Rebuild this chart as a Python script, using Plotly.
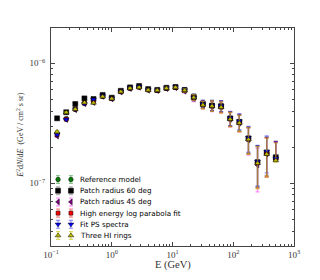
import plotly.graph_objects as go

# ---------------- data ----------------
E_GEV = [0.126, 0.178, 0.251, 0.355, 0.501, 0.708, 1.0, 1.41, 2.0, 2.82, 3.98, 5.62, 7.94,
         11.2, 15.8, 22.4, 31.6, 44.7, 63.1, 89.1, 126, 178, 251, 355, 501]

REFERENCE = [2.60e-7, 3.45e-7, 4.15e-7, 4.65e-7, 4.85e-7, 5.30e-7, 5.10e-7, 5.82e-7, 6.20e-7,
             6.35e-7, 6.02e-7, 5.96e-7, 6.20e-7, 6.32e-7, 5.97e-7, 5.20e-7, 4.55e-7, 4.42e-7,
             4.38e-7, 3.45e-7, 3.22e-7, 2.35e-7, 1.50e-7, 1.78e-7, 1.60e-7]
PATCH60 = [3.48e-7, 3.91e-7, 4.58e-7, 5.10e-7, 5.04e-7, 5.45e-7, 5.17e-7, 5.90e-7, 6.30e-7,
           6.47e-7, 6.10e-7, 6.00e-7, 6.25e-7, 6.35e-7, 6.00e-7, 5.25e-7, 4.60e-7, 4.45e-7,
           4.40e-7, 3.48e-7, 3.25e-7, 2.37e-7, 1.50e-7, 1.80e-7, 1.65e-7]
PATCH45 = [2.47e-7, 3.40e-7, 4.10e-7, 4.60e-7, 4.70e-7, 5.30e-7, 5.05e-7, 5.75e-7, 6.15e-7,
           6.30e-7, 5.95e-7, 5.92e-7, 6.15e-7, 6.25e-7, 5.85e-7, 5.10e-7, 4.50e-7, 4.38e-7,
           4.35e-7, 3.42e-7, 3.18e-7, 2.30e-7, 1.42e-7, 1.75e-7, 1.60e-7]
LOGPARABOLA = [2.55e-7, 3.42e-7, 4.14e-7, 4.65e-7, 4.75e-7, 5.30e-7, 5.08e-7, 5.80e-7, 6.19e-7,
               6.32e-7, 6.00e-7, 5.95e-7, 6.19e-7, 6.30e-7, 5.95e-7, 5.18e-7, 4.52e-7, 4.40e-7,
               4.32e-7, 3.44e-7, 3.20e-7, 2.33e-7, 1.48e-7, 1.77e-7, 1.60e-7]
FIT_PS = [2.55e-7, 3.41e-7, 4.15e-7, 4.62e-7, 5.00e-7, 5.35e-7, 5.12e-7, 5.85e-7, 6.25e-7,
          6.40e-7, 6.05e-7, 5.98e-7, 6.22e-7, 6.35e-7, 5.98e-7, 5.20e-7, 4.58e-7, 4.45e-7,
          4.42e-7, 3.50e-7, 3.30e-7, 2.40e-7, 1.52e-7, 1.85e-7, 1.62e-7]
THREE_HI = [2.69e-7, 3.90e-7, 4.14e-7, 4.70e-7, 4.68e-7, 5.27e-7, 5.07e-7, 5.80e-7, 6.19e-7,
            6.30e-7, 5.99e-7, 5.95e-7, 6.19e-7, 6.30e-7, 5.95e-7, 5.18e-7, 4.50e-7, 4.40e-7,
            4.30e-7, 3.42e-7, 3.18e-7, 2.32e-7, 1.47e-7, 1.75e-7, 1.55e-7]

ERR_UP = [0.05e-7, 0.05e-7, 0.05e-7, 0.05e-7, 0.05e-7, 0.05e-7, 0.05e-7, 0.10e-7, 0.10e-7,
          0.10e-7, 0.10e-7, 0.10e-7, 0.10e-7, 0.10e-7, 0.20e-7, 0.30e-7, 0.32e-7, 0.45e-7,
          0.46e-7, 0.47e-7, 0.50e-7, 0.58e-7, 0.55e-7, 0.63e-7, 0.61e-7]
ERR_DOWN = [0.05e-7, 0.05e-7, 0.05e-7, 0.05e-7, 0.05e-7, 0.05e-7, 0.05e-7, 0.10e-7, 0.10e-7,
            0.10e-7, 0.10e-7, 0.10e-7, 0.10e-7, 0.10e-7, 0.20e-7, 0.30e-7, 0.32e-7, 0.42e-7,
            0.46e-7, 0.47e-7, 0.50e-7, 0.58e-7, 0.57e-7, 0.63e-7, 0.05e-7]

SERIES_NAMES = ["Reference model", "Patch radius 60 deg", "Patch radius 45 deg",
                "High energy log parabola fit", "Fit PS spectra", "Three HI rings"]
SERIES_VALUES = [REFERENCE, PATCH60, PATCH45, LOGPARABOLA, FIT_PS, THREE_HI]

X_TICK_VALS = [0.1, 1, 10, 100, 1000]
X_TICK_TEXT = ["10<sup>−1</sup>", "10<sup>0</sup>", "10<sup>1</sup>", "10<sup>2</sup>", "10<sup>3</sup>"]
Y_TICK_VALS = [1e-7, 1e-6]
Y_TICK_TEXT = ["10<sup>−7</sup>", "10<sup>−6</sup>"]

# ---------------- styles ----------------
MARKER_COLORS = ["#008000", "#000000", "#800080", "#ff0000", "#0000ff", "#bfbf00"]
ERR_COLORS = ["rgba(0,128,0,0.45)", "rgba(0,0,0,0.3)", "rgba(255,0,255,0.45)",
              "rgba(255,0,0,0.45)", "rgba(0,0,255,0.45)", "rgba(191,191,0,0.6)"]
SYMBOLS = ["circle", "square", "triangle-left", "square", "triangle-down", "triangle-up"]
SIZES = [4.5, 5, 5, 4, 5, 5]

SERIF = "Liberation Serif, DejaVu Serif, serif"
SANS = "DejaVu Sans, Liberation Sans, sans-serif"
AXCOL = "#444444"

minor_vals = [m * 10.0 ** d for d in range(-9, 4) for m in range(2, 10)]

fig = go.Figure()

for name, vals, mc, ec, sym, sz in zip(SERIES_NAMES, SERIES_VALUES, MARKER_COLORS,
                                      ERR_COLORS, SYMBOLS, SIZES):
    fig.add_trace(go.Scatter(
        x=E_GEV, y=vals, mode="markers", name=name, showlegend=False,
        marker=dict(symbol=sym, size=sz, color=mc, line=dict(color="black", width=0.5)),
        error_y=dict(type="data", symmetric=False, array=ERR_UP, arrayminus=ERR_DOWN,
                     color=ec, thickness=1.3, width=2),
    ))

# ---------------- hand-drawn legend (two sample markers per entry) ----------------
LEG_X = [0.029, 0.082]
LEG_TEXT_X = 0.112
LEG_TOP = 0.305
LEG_STEP = 0.0514
for i, (name, mc, ec, sym, sz) in enumerate(zip(SERIES_NAMES, MARKER_COLORS, ERR_COLORS,
                                                SYMBOLS, SIZES)):
    ly = LEG_TOP - i * LEG_STEP
    fig.add_trace(go.Scatter(
        x=LEG_X, y=[ly, ly], mode="markers", showlegend=False, xaxis="x2", yaxis="y2",
        marker=dict(symbol=sym, size=sz, color=mc, line=dict(color="black", width=0.5)),
        error_y=dict(type="constant", value=0.018, color=ec, thickness=1.2, width=2),
        hoverinfo="skip",
    ))
    fig.add_annotation(x=LEG_TEXT_X, y=ly, xref="x2", yref="y2", text=name,
                       showarrow=False, xanchor="left", yanchor="middle",
                       font=dict(family=SANS, size=7.2, color="black"))

axis_common = dict(
    type="log", showgrid=False, zeroline=False, showline=True, linecolor=AXCOL, linewidth=1,
    mirror="allticks", ticks="inside", ticklen=4, tickwidth=0.8, tickcolor=AXCOL,
    tickfont=dict(family=SERIF, size=9, color="#333333"),
    minor=dict(tickvals=minor_vals, ticks="inside", ticklen=2, tickwidth=0.6, tickcolor=AXCOL,
               showgrid=False),
)

fig.update_layout(
    width=320, height=280,
    margin=dict(l=51, r=26, t=28, b=34),
    paper_bgcolor="white", plot_bgcolor="white",
    xaxis=dict(axis_common, range=[-1, 3], tickvals=X_TICK_VALS, ticktext=X_TICK_TEXT),
    yaxis=dict(axis_common, range=[-7.522, -5.706], tickvals=Y_TICK_VALS, ticktext=Y_TICK_TEXT,
               ticklabelstandoff=3),
    xaxis2=dict(overlaying="x", range=[0, 1], visible=False, anchor="y2"),
    yaxis2=dict(overlaying="y", range=[0, 1], visible=False, anchor="x2"),
    showlegend=False,
)

fig.add_annotation(x=0.5, y=-0.085, xref="paper", yref="paper", text="E (GeV)",
                   showarrow=False, xanchor="center", yanchor="middle",
                   font=dict(family=SERIF, size=10.5, color="#333333"))
fig.add_annotation(x=-0.128, y=0.51, xref="paper", yref="paper",
                   text="<i>E</i><sup>2</sup>d<i>N</i>/d<i>E</i>  (GeV / cm<sup>2</sup> s sr)",
                   textangle=-90, showarrow=False, xanchor="center", yanchor="middle",
                   font=dict(family=SERIF, size=8, color="#333333"))

fig.write_html("out.html", config={"displayModeBar": False},
               post_script="document.body.style.margin='0';")
